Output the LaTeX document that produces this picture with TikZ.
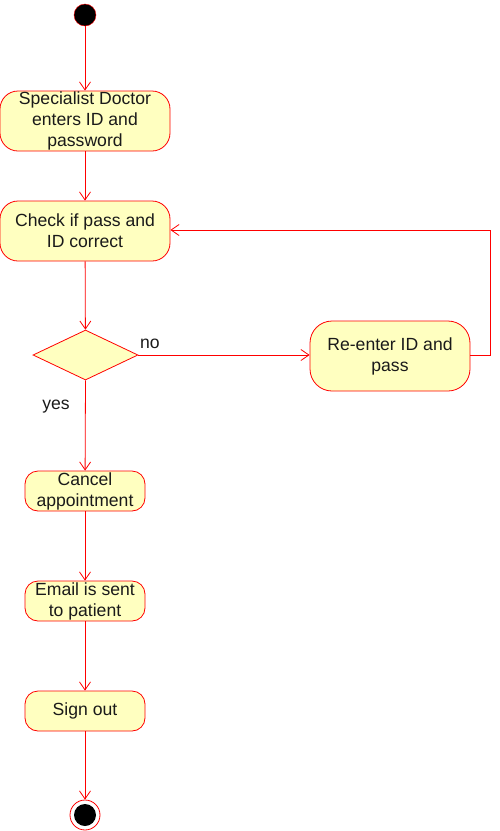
\documentclass[tikz,border=0pt]{standalone}
\usepackage{fontspec}
\setmainfont{Liberation Sans}
\usetikzlibrary{arrows.meta,shapes.geometric}
\definecolor{fillY}{HTML}{FFFFC0}
\definecolor{lineR}{HTML}{FF0000}
\definecolor{txt}{HTML}{1A1A1A}
\begin{document}
\begin{tikzpicture}[x=1pt,y=-1pt,
  act/.style={draw=lineR,fill=fillY,rounded corners=18pt,text=txt,align=center,
    font=\fontsize{17.6}{21}\selectfont,inner sep=0pt,line width=0.8pt},
  flow/.style={draw=lineR,line width=0.8pt,-{Straight Barb[length=8pt,width=11pt]}},
  lbl/.style={text=txt,font=\fontsize{17.6}{21}\selectfont}]
\useasboundingbox (0,0) rectangle (499,831);
\node[circle,fill=black,draw=lineR,minimum size=22pt,inner sep=0pt] (start) at (85,15) {};
\node[act,minimum width=170pt,minimum height=60pt] (enter) at (85,121) {Specialist Doctor\\enters ID and\\password};
\node[act,minimum width=170pt,minimum height=60pt] (check) at (85,231) {Check if pass and\\ID correct};
\node[diamond,draw=lineR,fill=fillY,line width=0.8pt,minimum width=105pt,minimum height=50pt,inner sep=0pt,aspect=2.1] (dec) at (85.5,355) {};
\node[act,minimum width=160pt,minimum height=70pt,rounded corners=22pt] (reenter) at (390,356) {Re-enter ID and\\pass};
\node[act,minimum width=120pt,minimum height=40pt,rounded corners=13pt] (cancel) at (85,491) {Cancel\\appointment};
\node[act,minimum width=120pt,minimum height=40pt,rounded corners=13pt] (email) at (85,601) {Email is sent\\to patient};
\node[act,minimum width=120pt,minimum height=40pt,rounded corners=13pt] (signout) at (85,711) {Sign out};
\node[circle,draw=lineR,fill=white,line width=0.8pt,minimum size=30pt,inner sep=0pt] (endo) at (85,815) {};
\node[circle,fill=black,minimum size=22pt,inner sep=0pt] (endi) at (85,815) {};
\coordinate (c1) at (490,355);
\coordinate (c2) at (490,230);
\draw[flow] (start) -- (enter);
\draw[flow] (enter) -- (check);
\draw[flow] (check) -- (dec);
\draw[flow] (dec.east) -- (dec.east -| reenter.west);
\draw[flow] (reenter.east |- c1) -- (c1) -- (c2) -- (c2 -| check.east);
\draw[flow] (dec.south) -- (cancel);
\draw[flow] (cancel) -- (email);
\draw[flow] (email) -- (signout);
\draw[flow] (signout) -- (endo);
\node[lbl] (no) at (150,344) {no};
\node[lbl] (yes) at (56,407) {yes};
\end{tikzpicture}
\end{document}
